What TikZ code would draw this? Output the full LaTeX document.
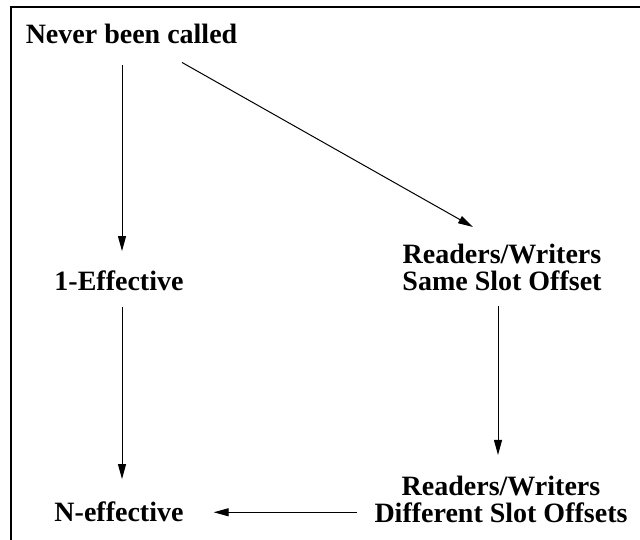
\documentclass[tikz,border=0pt]{standalone}
\usepackage{fontspec}
\setmainfont{Liberation Serif}
\usetikzlibrary{arrows.meta}

\tikzset{
  stage/.style={inner sep=0pt, align=center, font=\fontsize{28}{27}\selectfont\bfseries},
  flow/.style={line width=1pt, -{Triangle[length=15pt,width=8pt]}}
}

\begin{document}
\begin{tikzpicture}[x=1pt,y=1pt]
\useasboundingbox (0,0) rectangle (640,540);
% Frame
\draw[line width=2pt] (11,-10) |- (650,533);

% The states
\node[stage, anchor=base]  (never) at (131.5,496) {Never been called};
\node[stage, anchor=base]  (one)   at (119,249)   {1-Effective};
\node[stage, anchor=base]  (neff)  at (119,18)    {N-effective};
\node[stage, anchor=north] (same)  at (502,296)   {Readers/Writers\\Same Slot Offset};
\node[stage, anchor=north] (diff)  at (501,64)    {Readers/Writers\\Different Slot Offsets};

% Transitions
\draw[flow, shorten <=21pt, shorten >=20pt]
  ([xshift=3pt]one.north |- never.south) -- ([xshift=3pt]one.north);
\draw[flow] ([shift={(50.5,-18)}]never.south) -- ([shift={(-29,17)}]same.north);
\draw[flow, shorten <=16pt, shorten >=23pt]
  ([xshift=3pt]one.south) -- ([xshift=3pt]neff.north);
\draw[flow, shorten <=15pt, shorten >=21pt]
  ([xshift=-4pt]same.south) -- ([xshift=-3pt]diff.north);
\draw[flow, shorten <=17pt, shorten >=30pt]
  (diff.west |- neff.east) -- (neff.east);
\end{tikzpicture}
\end{document}
